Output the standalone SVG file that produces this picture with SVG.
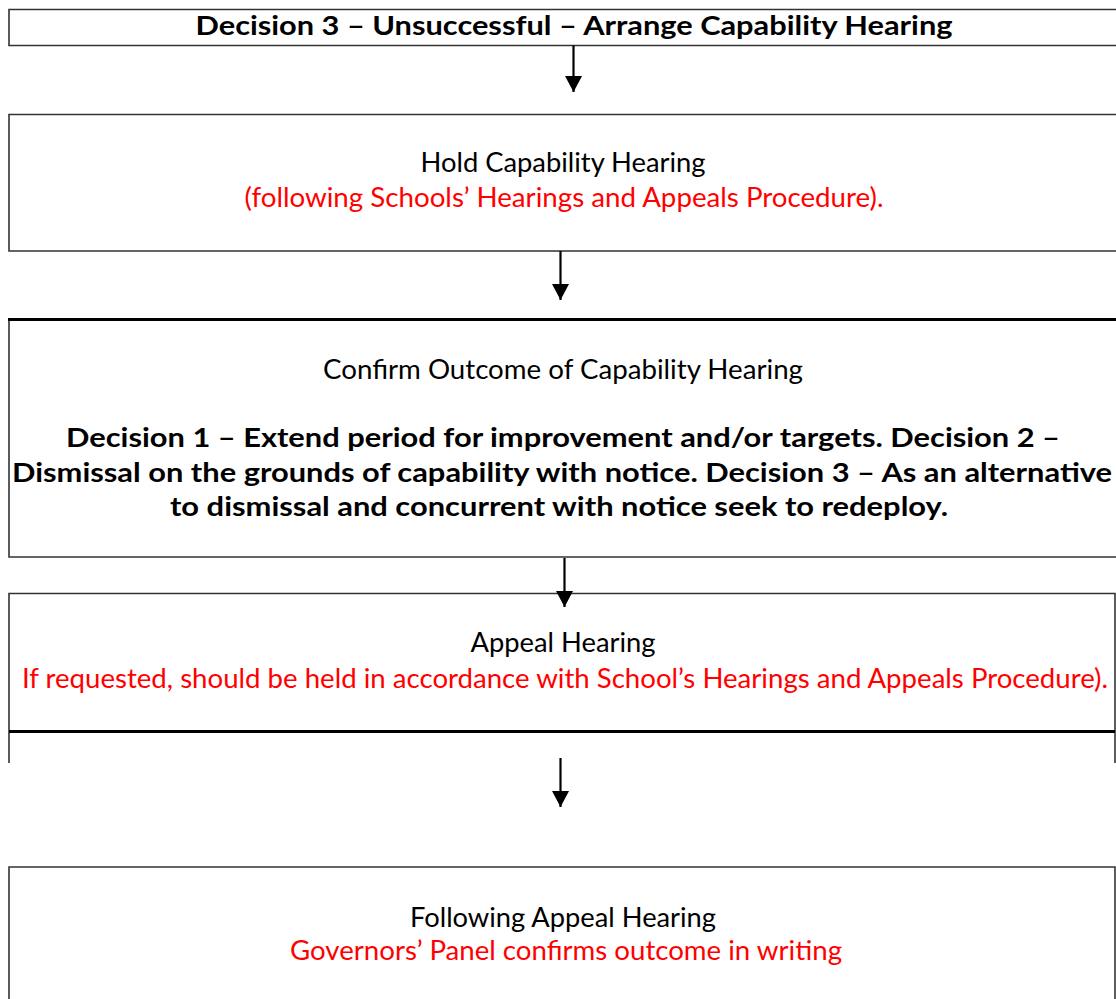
<svg xmlns="http://www.w3.org/2000/svg" width="1116" height="999" viewBox="0 0 1116 999">
<style>
.ln{stroke:#333;stroke-width:1.6;fill:none}
.thick{stroke:#000;stroke-width:3.2;fill:none}
.t{font-family:"Lato","Open Sans","Liberation Sans",sans-serif;font-size:26px;text-anchor:middle;fill:#000}
.b{font-weight:bold}
.r{fill:#ff0000}
.ar{stroke:#000;stroke-width:2.2}
</style>
<defs>
<marker id="ah" markerWidth="16" markerHeight="17" refX="16" refY="8.5" orient="auto" markerUnits="userSpaceOnUse" viewBox="0 0 16 17">
<path d="M0,0 L16,8.5 L0,17 z" fill="#000"/>
</marker>
</defs>
<rect width="1116" height="999" fill="#fff"/>
<g id="node1">
<path class="ln" d="M1116,9.5 H9 V45.5 H1116"/>
<text class="t b" x="574" y="35" textLength="757" lengthAdjust="spacingAndGlyphs">Decision 3 – Unsuccessful – Arrange Capability Hearing</text>
</g>
<g id="node2">
<path class="ln" d="M1116,114.5 H9 V251 H1116"/>
<text class="t" x="563" y="172" textLength="285" lengthAdjust="spacingAndGlyphs">Hold Capability Hearing</text>
<text class="t r" x="564" y="207" textLength="639" lengthAdjust="spacingAndGlyphs">(following Schools’ Hearings and Appeals Procedure).</text>
</g>
<g id="node3">
<path class="ln" d="M9,319 V557 H1116"/>
<line class="thick" x1="8" y1="319.5" x2="1116" y2="319.5"/>
<text class="t" x="563" y="379" textLength="480" lengthAdjust="spacingAndGlyphs">Confirm Outcome of Capability Hearing</text>
<text class="t b" x="563" y="447" textLength="994" lengthAdjust="spacingAndGlyphs">Decision 1 – Extend period for improvement and/or targets. Decision 2 –</text>
<text class="t b" x="562" y="482" textLength="1100" lengthAdjust="spacingAndGlyphs">Dismissal on the grounds of capability with notice. Decision 3 – As an alternative</text>
<text class="t b" x="559" y="516" textLength="778" lengthAdjust="spacingAndGlyphs">to dismissal and concurrent with notice seek to redeploy.</text>
</g>
<g id="node4">
<path class="ln" d="M9,763 V593.5 H1115 V763"/>
<line class="thick" x1="9" y1="731.5" x2="1115" y2="731.5"/>
<text class="t" x="563" y="652" textLength="185" lengthAdjust="spacingAndGlyphs">Appeal Hearing</text>
<text class="t r" x="565" y="688" textLength="1086" lengthAdjust="spacingAndGlyphs">If requested, should be held in accordance with School’s Hearings and Appeals Procedure).</text>
</g>
<g id="node5">
<path class="ln" d="M9,999 V867 H1115 V999"/>
<text class="t" x="563" y="927" textLength="306" lengthAdjust="spacingAndGlyphs">Following Appeal Hearing</text>
<text class="t r" x="566" y="960" textLength="552" lengthAdjust="spacingAndGlyphs">Governors’ Panel confirms outcome in writing</text>
</g>
<g id="connectors">
<line class="ar" x1="573.5" y1="45.5" x2="573.5" y2="92" marker-end="url(#ah)"/>
<line class="ar" x1="560.5" y1="251" x2="560.5" y2="300" marker-end="url(#ah)"/>
<line class="ar" x1="564.5" y1="558" x2="564.5" y2="607" marker-end="url(#ah)"/>
<line class="ar" x1="560.5" y1="758" x2="560.5" y2="807" marker-end="url(#ah)"/>
</g>
</svg>
